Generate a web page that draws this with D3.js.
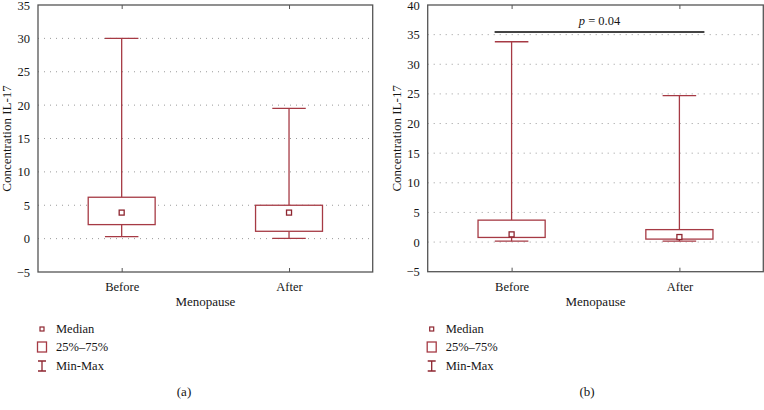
<!DOCTYPE html>
<html><head><meta charset="utf-8">
<script src="https://cdn.jsdelivr.net/npm/d3@7"></script>
<style>
body{margin:0;background:#fff;}
text{font-family:"Liberation Serif","DejaVu Serif",serif;fill:#151515;}
</style></head>
<body><svg id="c" width="764" height="410"></svg>
<script>
const categories = ["Before", "After"];
// panel (a)
const aMin = [0.3, 0.05];
const aQ1 = [2.1, 1.1];
const aMedian = [3.9, 3.9];
const aQ3 = [6.2, 5.0];
const aMax = [30, 19.5];
const aTicks = [-5, 0, 5, 10, 15, 20, 25, 30, 35];
// panel (b)
const bMin = [0.15, 0.15];
const bQ1 = [0.78, 0.5];
const bMedian = [1.3, 0.85];
const bQ3 = [3.7, 2.1];
const bMax = [33.8, 24.7];
const bTicks = [-5, 0, 5, 10, 15, 20, 25, 30, 35, 40];
const pLabel = "p = 0.04";
const pValueY = 35.45;
const legendLabels = ["Median", "25%\u201375%", "Min-Max"];

const boxColor = "#a63a44";
const svg = d3.select("#c");

function panel(cfg) {
  const {x0, x1, y0, y1, domain, ticks, mins, q1s, meds, q3s, maxs, tag} = cfg;
  const g = svg.append("g");
  const x = d3.scalePoint().domain(categories).range([x0, x1]).padding(0.5);
  const y = d3.scaleLinear().domain(domain).range([y1, y0]);
  const w = x1 - x0;
  // grid
  g.selectAll(".grid").data(ticks.filter(t => t > domain[0] && t < domain[1])).join("line")
    .attr("x1", x0).attr("x2", x1).attr("y1", d => y(d)).attr("y2", d => y(d))
    .attr("stroke", "#9a9a9a").attr("stroke-width", 1).attr("stroke-dasharray", "1,5");
  // axes
  const ya = d3.axisLeft(y).tickValues(ticks).tickSize(0).tickPadding(8)
    .tickFormat(d => d < 0 ? "\u2212" + Math.abs(d) : d);
  const yg = g.append("g").attr("transform", `translate(${x0},0)`).call(ya);
  yg.select(".domain").remove();
  yg.selectAll("text").style("font-size", "12.5px").attr("fill", "#151515");
  const xa = d3.axisBottom(x).tickSize(-4).tickPadding(10);
  const xg = g.append("g").attr("transform", `translate(0,${y1})`).call(xa);
  xg.select(".domain").remove();
  xg.selectAll("line").attr("stroke", "#555");
  xg.selectAll("text").style("font-size", "12.5px").attr("fill", "#151515");
  const xt = d3.axisTop(x).tickSize(-4).tickFormat("");
  const xtg = g.append("g").attr("transform", `translate(0,${y0})`).call(xt);
  xtg.select(".domain").remove();
  xtg.selectAll("line").attr("stroke", "#555");
  // frame
  g.append("rect").attr("x", x0).attr("y", y0).attr("width", w).attr("height", y1 - y0)
    .attr("fill", "none").attr("stroke", "#555").attr("stroke-width", 1.3);
  // boxes
  const bw = w * 0.2, cw = w * 0.1;
  categories.forEach((c, i) => {
    const cx = x(c);
    const bg = g.append("g").attr("stroke", boxColor).attr("fill", "none").attr("stroke-width", 1.3);
    bg.append("line").attr("x1", cx).attr("x2", cx).attr("y1", y(maxs[i])).attr("y2", y(q3s[i]));
    bg.append("line").attr("x1", cx).attr("x2", cx).attr("y1", y(q1s[i])).attr("y2", y(mins[i]));
    bg.append("line").attr("x1", cx - cw / 2).attr("x2", cx + cw / 2).attr("y1", y(maxs[i])).attr("y2", y(maxs[i]));
    bg.append("line").attr("x1", cx - cw / 2).attr("x2", cx + cw / 2).attr("y1", y(mins[i])).attr("y2", y(mins[i]));
    bg.append("rect").attr("x", cx - bw / 2).attr("width", bw)
      .attr("y", y(q3s[i])).attr("height", y(q1s[i]) - y(q3s[i])).attr("fill", "#fff");
    bg.append("rect").attr("x", cx - 2.5).attr("y", y(meds[i]) - 2.5).attr("width", 5).attr("height", 5)
      .attr("fill", "#fff").attr("stroke", "#8e2630");
  });
  // titles
  g.append("text").attr("transform", `translate(${x0 - 27},${(y0 + y1) / 2}) rotate(-90)`)
    .attr("text-anchor", "middle").style("font-size", "13px").text("Concentration IL-17");
  g.append("text").attr("x", (x0 + x1) / 2).attr("y", 306).attr("text-anchor", "middle")
    .style("font-size", "13px").text("Menopause");
  // legend
  const lx = x0 + 4;
  const ly = [329, 347, 366];
  const lg = g.append("g");
  lg.append("rect").attr("x", lx - 2).attr("y", ly[0] - 2).attr("width", 4).attr("height", 4)
    .attr("fill", "#fff").attr("stroke", "#8e2630").attr("stroke-width", 1.2);
  lg.append("rect").attr("x", lx - 4.5).attr("y", ly[1] - 5).attr("width", 9).attr("height", 10)
    .attr("fill", "#fff").attr("stroke", boxColor).attr("stroke-width", 1.3);
  lg.append("path").attr("d", `M${lx - 4},${ly[2] - 5}H${lx + 4}M${lx},${ly[2] - 5}V${ly[2] + 5}M${lx - 4},${ly[2] + 5}H${lx + 4}`)
    .attr("stroke", "#8e2630").attr("stroke-width", 1.3).attr("fill", "none");
  legendLabels.forEach((t, i) => {
    lg.append("text").attr("x", lx + 14).attr("y", ly[i]).attr("dy", "0.35em")
      .style("font-size", "12.5px").text(t);
  });
  g.append("text").attr("x", tag.x).attr("y", 396).attr("text-anchor", "middle")
    .style("font-size", "13px").text(tag.t);
  return {x, y, g};
}

panel({x0: 38, x1: 372.7, y0: 5, y1: 272, domain: [-5, 35], ticks: aTicks,
  mins: aMin, q1s: aQ1, meds: aMedian, q3s: aQ3, maxs: aMax, tag: {x: 184, t: "(a)"}});
const b = panel({x0: 427.7, x1: 763.3, y0: 5, y1: 271.7, domain: [-5, 40], ticks: bTicks,
  mins: bMin, q1s: bQ1, meds: bMedian, q3s: bQ3, maxs: bMax, tag: {x: 587, t: "(b)"}});
// significance bar
const bx0 = b.x("Before") - 17, bx1 = b.x("After") + 25;
b.g.append("line").attr("x1", bx0).attr("x2", bx1).attr("y1", b.y(pValueY)).attr("y2", b.y(pValueY))
  .attr("stroke", "#444").attr("stroke-width", 2);
const pt = b.g.append("text").attr("x", (bx0 + bx1) / 2).attr("y", b.y(pValueY) - 7)
  .attr("text-anchor", "middle").style("font-size", "12.5px");
pt.append("tspan").style("font-style", "italic").text(pLabel.split(" ")[0]);
pt.append("tspan").text(" " + pLabel.split(" ").slice(1).join(" "));
</script></body></html>
